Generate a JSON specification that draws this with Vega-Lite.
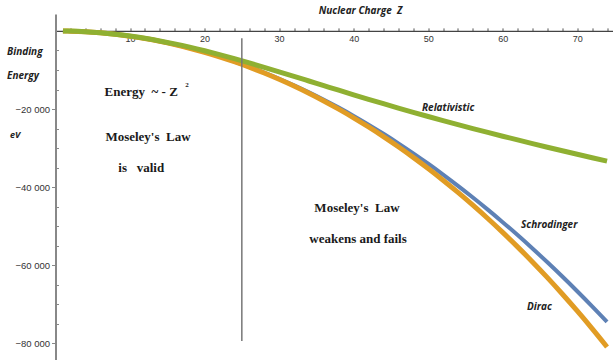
{
  "$schema": "https://vega.github.io/schema/vega-lite/v6.json",
  "autosize": "none",
  "width": 557.5,
  "height": 346,
  "padding": {"left": 55.5, "top": 14, "right": 0, "bottom": 0},
  "background": "white",
  "config": {"view": {"stroke": null}},
  "datasets": {
    "schrodinger": [{"Z":1,"E":-13.6},{"Z":2,"E":-54.4},{"Z":4,"E":-217.6},{"Z":6,"E":-489.6},{"Z":8,"E":-870.4},{"Z":10,"E":-1360},{"Z":12,"E":-1958.4},{"Z":14,"E":-2665.6},{"Z":16,"E":-3481.6},{"Z":18,"E":-4406.4},{"Z":20,"E":-5440},{"Z":22,"E":-6582.4},{"Z":24,"E":-7833.6},{"Z":26,"E":-9193.6},{"Z":28,"E":-10662.4},{"Z":30,"E":-12240},{"Z":32,"E":-13926.4},{"Z":34,"E":-15721.6},{"Z":36,"E":-17625.6},{"Z":38,"E":-19638.4},{"Z":40,"E":-21760},{"Z":42,"E":-23990.4},{"Z":44,"E":-26329.6},{"Z":46,"E":-28777.6},{"Z":48,"E":-31334.4},{"Z":50,"E":-34000},{"Z":52,"E":-36774.4},{"Z":54,"E":-39657.6},{"Z":56,"E":-42649.6},{"Z":58,"E":-45750.4},{"Z":60,"E":-48960},{"Z":62,"E":-52278.4},{"Z":64,"E":-55705.6},{"Z":66,"E":-59241.6},{"Z":68,"E":-62886.4},{"Z":70,"E":-66640},{"Z":72,"E":-70502.4},{"Z":74,"E":-74473.6}],
    "dirac": [{"Z":1,"E":-13.6},{"Z":2,"E":-54.4},{"Z":4,"E":-217.7},{"Z":6,"E":-490},{"Z":8,"E":-871.5},{"Z":10,"E":-1362.4},{"Z":12,"E":-1963},{"Z":14,"E":-2673.7},{"Z":16,"E":-3495},{"Z":18,"E":-4427.4},{"Z":20,"E":-5471.5},{"Z":22,"E":-6628},{"Z":24,"E":-7897.8},{"Z":26,"E":-9281.6},{"Z":28,"E":-10780.4},{"Z":30,"E":-12395.3},{"Z":32,"E":-14127.3},{"Z":34,"E":-15977.7},{"Z":36,"E":-17948},{"Z":38,"E":-20039.3},{"Z":40,"E":-22253.4},{"Z":42,"E":-24591.8},{"Z":44,"E":-27056.5},{"Z":46,"E":-29649.4},{"Z":48,"E":-32372.5},{"Z":50,"E":-35227},{"Z":52,"E":-38218.4},{"Z":54,"E":-41346.4},{"Z":56,"E":-44614.5},{"Z":58,"E":-48025.7},{"Z":60,"E":-51583.4},{"Z":62,"E":-55290.9},{"Z":64,"E":-59151.6},{"Z":66,"E":-63170.1},{"Z":68,"E":-67350.6},{"Z":70,"E":-71696.9},{"Z":72,"E":-76215.8},{"Z":74,"E":-80909.4}],
    "relativistic": [{"Z":1,"E":-14},{"Z":2,"E":-54},{"Z":4,"E":-216},{"Z":6,"E":-484},{"Z":8,"E":-856},{"Z":10,"E":-1328},{"Z":12,"E":-1898},{"Z":14,"E":-2563},{"Z":16,"E":-3318},{"Z":18,"E":-4158},{"Z":20,"E":-5078},{"Z":22,"E":-6068},{"Z":24,"E":-7113},{"Z":26,"E":-8203},{"Z":28,"E":-9328},{"Z":30,"E":-10478},{"Z":32,"E":-11646},{"Z":34,"E":-12824},{"Z":36,"E":-14004},{"Z":38,"E":-15181},{"Z":40,"E":-16348},{"Z":42,"E":-17500},{"Z":44,"E":-18634},{"Z":46,"E":-19747},{"Z":48,"E":-20838},{"Z":50,"E":-21908},{"Z":52,"E":-22958},{"Z":54,"E":-23988},{"Z":56,"E":-24998},{"Z":58,"E":-25988},{"Z":60,"E":-26958},{"Z":62,"E":-27910},{"Z":64,"E":-28847},{"Z":66,"E":-29770},{"Z":68,"E":-30680},{"Z":70,"E":-31578},{"Z":72,"E":-32464},{"Z":74,"E":-33339}],
    "divider": [{"Z":25,"E":-1894,"E2":-79380}],
    "notes": [
      {"Z":11.5,"E":-16600,"text":"Energy\u00a0 ~ - Z"},
      {"Z":12.41,"E":-28185,"text":"Moseley's\u00a0 Law"},
      {"Z":11.5,"E":-36000,"text":"is\u00a0\u00a0 valid"},
      {"Z":40.45,"E":-46362,"text":"Moseley's\u00a0 Law"},
      {"Z":40.59,"E":-54298,"text":"weakens and fails"}
    ],
    "sup": [{"Z":17.4,"E":-14300,"text":"2"}],
    "tags": [
      {"Z":49.17,"E":-20506,"text":"Relativistic"},
      {"Z":62.46,"E":-50458,"text":"Schrodinger"},
      {"Z":63.26,"E":-71450,"text":"Dirac"},
      {"Z":-6.51,"E":-6170,"text":"Binding"},
      {"Z":-6.51,"E":-12314,"text":"Energy"}
    ],
    "unit": [{"Z":-6.1,"E":-27400,"text":"eV"}]
  },
  "encoding": {
    "x": {"field": "Z", "type": "quantitative",
      "scale": {"domain": [0, 74.8], "nice": false, "zero": false},
      "axis": {"orient": "top", "offset": -16.9,
        "values": [2,4,6,8,10,12,14,16,18,20,22,24,26,28,30,32,34,36,38,40,42,44,46,48,50,52,54,56,58,60,62,64,66,68,70,72,74],
        "labelExpr": "datum.value % 10 === 0 ? datum.label : ''",
        "tickSize": 3, "labelPadding": -7, "labelBaseline": "top", "labelOverlap": false, "labelFlush": false, "labelBound": false,
        "domainColor": "#444", "domainWidth": 1.2, "tickColor": "#555", "grid": false,
        "labelFont": "Liberation Sans", "labelFontSize": 9, "labelColor": "#333",
        "title": "Nuclear Charge\u00a0 Z", "titleFont": "Open Sans", "titleFontStyle": "italic", "titleFontWeight": "bold", "titleFontSize": 10,
        "titleX": 304.5, "titleY": -17, "titleAlign": "center", "titleBaseline": "alphabetic", "titleColor": "#222"}},
    "y": {"field": "E", "type": "quantitative",
      "scale": {"domain": [-84250, 4330], "nice": false, "zero": false},
      "axis": {"title": null,
        "values": [-80000,-75000,-70000,-65000,-60000,-55000,-50000,-45000,-40000,-35000,-30000,-25000,-20000,-15000,-10000,-5000],
        "labelExpr": "datum.value % 20000 === 0 ? replace(format(datum.value, ','), ',', ' ') : ''",
        "tickSize": {"expr": "datum.value % 20000 === 0 ? 4 : -3"},
        "labelPadding": 2, "labelOverlap": false, "labelBound": false, "grid": false,
        "domainColor": "#888", "domainWidth": 2, "tickColor": "#888",
        "labelFont": "Liberation Sans", "labelFontSize": 9.5, "labelColor": "#333"}}
  },
  "layer": [
    {
      "data": {"name": "schrodinger"},
      "mark": {"type": "line", "color": "#5E81B5", "strokeWidth": 4, "interpolate": "monotone"}
    },
    {
      "data": {"name": "dirac"},
      "mark": {"type": "line", "color": "#E19C24", "strokeWidth": 5, "interpolate": "monotone"}
    },
    {
      "data": {"name": "relativistic"},
      "mark": {"type": "line", "color": "#8FB032", "strokeWidth": 5, "interpolate": "monotone"}
    },
    {
      "data": {"name": "divider"},
      "mark": {"type": "rule", "color": "#777", "strokeWidth": 1.5},
      "encoding": {"y2": {"field": "E2"}}
    },
    {
      "data": {"name": "notes"},
      "mark": {"type": "text", "align": "center", "baseline": "alphabetic", "font": "Liberation Serif", "fontWeight": "bold", "fontSize": 13, "color": "#1a1a1a"},
      "encoding": {"text": {"field": "text"}}
    },
    {
      "data": {"name": "sup"},
      "mark": {"type": "text", "align": "left", "baseline": "alphabetic", "font": "Liberation Serif", "fontWeight": "bold", "fontSize": 7, "color": "#1a1a1a"},
      "encoding": {"text": {"field": "text"}}
    },
    {
      "data": {"name": "tags"},
      "mark": {"type": "text", "align": "left", "baseline": "alphabetic", "font": "Open Sans", "fontStyle": "italic", "fontWeight": "bold", "fontSize": 10, "color": "#222"},
      "encoding": {"text": {"field": "text"}}
    },
    {
      "data": {"name": "unit"},
      "mark": {"type": "text", "align": "left", "baseline": "alphabetic", "font": "Open Sans", "fontStyle": "italic", "fontWeight": "bold", "fontSize": 9, "color": "#222"},
      "encoding": {"text": {"field": "text"}}
    }
  ]
}
